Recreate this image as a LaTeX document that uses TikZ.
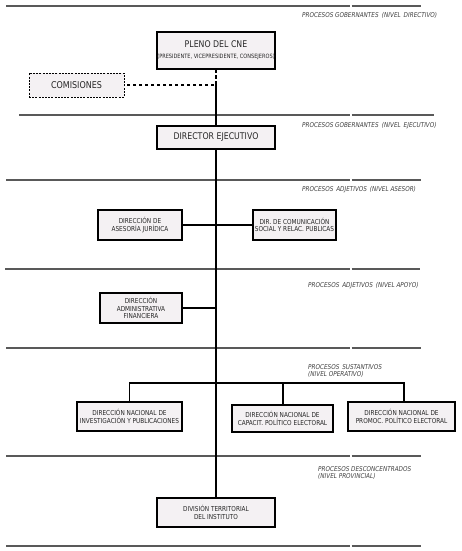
\documentclass[tikz,border=0pt]{standalone}
\usepackage{fontspec}
\setmainfont{DejaVu Sans}[FakeStretch=0.85]
\begin{document}
\begin{tikzpicture}[x=1pt,y=-1pt,
  unit/.style={draw=black, line width=1.1pt, fill=boxfill, inner sep=0pt, align=center, text=black!85},
  bxfont/.style={font=\fontsize{6.8}{7.6}\selectfont},
  sep/.style={draw=black!65, line width=1.1pt},
  trunk/.style={draw=black, line width=1.5pt},
  conn/.style={draw=black, line width=1.2pt},
  lbl/.style={anchor=west, inner sep=0pt, align=left, text=black!75, font=\fontsize{6.7}{7.8}\selectfont\itshape}]
\definecolor{boxfill}{HTML}{F4F1F3}
\useasboundingbox (0,0) rectangle (461,551);
% separators
\foreach \yy/\xa/\xb in {6/6/421, 115/19/434, 180/6/421, 269/5/420, 348/6/421, 456/6/421, 546/6/421}{
  \draw[sep] (\xa,\yy) -- (350,\yy);
  \draw[sep] (351.5,\yy) -- (\xb,\yy);
}
% labels
\node[lbl] (l1) at (302,15) {PROCESOS GOBERNANTES\enspace(NIVEL\, DIRECTIVO)};
\node[lbl] (l2) at (302,126) {PROCESOS GOBERNANTES\enspace(NIVEL\, EJECUTIVO)};
\node[lbl] (l3) at (302,190) {PROCESOS\, ADJETIVOS\, (NIVEL ASESOR)};
\node[lbl] (l4) at (308,286) {PROCESOS\, ADJETIVOS\, (NIVEL APOYO)};
\node[lbl] (l5) at (308,371) {PROCESOS\, SUSTANTIVOS\\(NIVEL OPERATIVO)};
\node[lbl] (l6) at (318,473) {PROCESOS DESCONCENTRADOS\\(NIVEL PROVINCIAL)};
% coordinates
\coordinate (j) at (216,85);
\coordinate (tadm) at (216,308);
\coordinate (bar) at (216,383);
% connectors (behind boxes)
\draw[trunk] (j) -- (216,498);
\draw[conn, dash pattern=on 3.5pt off 2.5pt, line width=1.1pt] (216,69) -- (j) -- (124,85);
\draw[conn] (182,225) -- (253,225);
\draw[conn] (182,308) -- (tadm);
\draw[conn] (129.5,402) |- (bar) -| (404,402);
\draw[conn] (283,405) -- (283,383);
% boxes
\node[unit, minimum width=118, minimum height=37] (pleno) at (216,50.5)
  {{\fontsize{9.2}{10}\selectfont PLENO DEL CNE}\\[-1pt]{\fontsize{5.9}{6.5}\selectfont (PRESIDENTE, VICEPRESIDENTE, CONSEJEROS)}};
\node[unit, dash pattern=on 2pt off 1.2pt, line width=1pt, minimum width=95, minimum height=24, font=\fontsize{9.4}{10}\selectfont] (comisiones) at (76.5,85) {COMISIONES};
\node[unit, minimum width=118, minimum height=23, font=\fontsize{9.2}{10}\selectfont] (director) at (216,137.5) {DIRECTOR EJECUTIVO};
\node[unit, bxfont, minimum width=84, minimum height=30] (asesoria) at (140,225) {DIRECCIÓN DE\\ASESORÍA JURÍDICA};
\node[unit, bxfont, minimum width=83, minimum height=30] (comunicacion) at (294.5,225) {DIR. DE COMUNICACIÓN\\SOCIAL Y RELAC. PUBLICAS};
\node[unit, bxfont, minimum width=82, minimum height=30] (admin) at (141,308) {DIRECCIÓN\\ADMINISTRATIVA\\FINANCIERA};
\node[unit, bxfont, minimum width=105, minimum height=29] (inv) at (129.5,416.5) {DIRECCIÓN NACIONAL DE\\INVESTIGACIÓN Y PUBLICACIONES};
\node[unit, bxfont, minimum width=101, minimum height=27] (cap) at (282.5,418.5) {DIRECCIÓN NACIONAL DE\\CAPACIT. POLÍTICO ELECTORAL};
\node[unit, bxfont, minimum width=107, minimum height=29] (prom) at (401.5,416.5) {DIRECCIÓN NACIONAL DE\\PROMOC. POLÍTICO ELECTORAL};
\node[unit, bxfont, minimum width=118, minimum height=29] (division) at (216,512.5) {DIVISIÓN TERRITORIAL\\DEL INSTITUTO};
\end{tikzpicture}
\end{document}
